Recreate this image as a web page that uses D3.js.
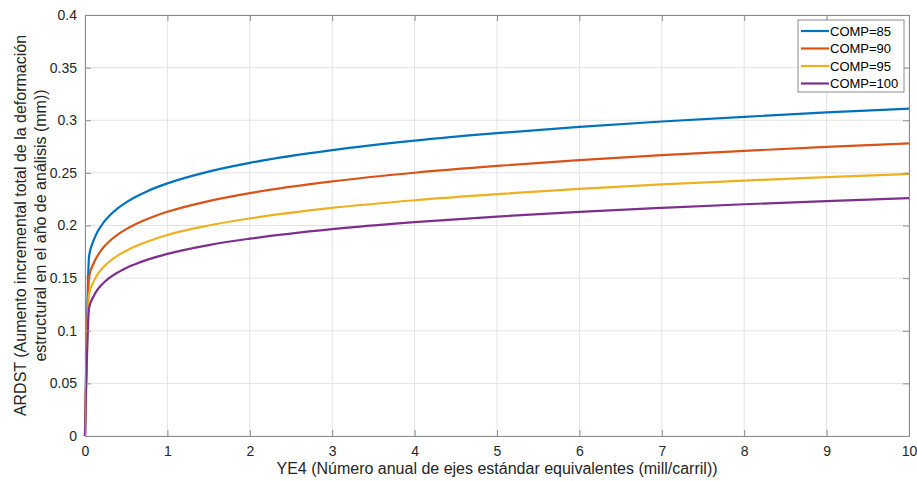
<!DOCTYPE html>
<html><head><meta charset="utf-8">
<script src="https://cdn.jsdelivr.net/npm/d3@7/dist/d3.min.js"></script>
<style>body{margin:0;background:#fff}svg{display:block;font-family:"Liberation Sans",Arial,sans-serif}</style>
</head><body><svg id="c" width="917" height="481"></svg>
<script>
const xVals   = [0, 0.05, 0.1, 0.15, 0.2, 0.25, 0.3, 0.4, 0.5, 0.6, 0.75, 1, 1.5, 2, 3, 4, 5, 6, 7, 8, 9, 10];
const comp85  = [0, 0.171, 0.185, 0.1939, 0.200, 0.2053, 0.2096, 0.2165, 0.222, 0.2266, 0.2324, 0.240, 0.2512, 0.2595, 0.2716, 0.2806, 0.2877, 0.2937, 0.2988, 0.3033, 0.3074, 0.311];
const comp90  = [0, 0.151, 0.1632, 0.1710, 0.1768, 0.1814, 0.1853, 0.1916, 0.1966, 0.2008, 0.2060, 0.213, 0.2232, 0.2308, 0.2419, 0.2501, 0.2566, 0.2621, 0.2668, 0.2709, 0.2747, 0.278];
const comp95  = [0, 0.135, 0.146, 0.1532, 0.1584, 0.1625, 0.166, 0.1716, 0.176, 0.1798, 0.1845, 0.191, 0.200, 0.2067, 0.2167, 0.224, 0.2298, 0.2348, 0.239, 0.2427, 0.246, 0.249];
const comp100 = [0, 0.122, 0.132, 0.1388, 0.1435, 0.1473, 0.1505, 0.1555, 0.1597, 0.1630, 0.1673, 0.173, 0.1814, 0.1875, 0.1966, 0.2032, 0.2085, 0.2130, 0.2168, 0.2202, 0.2232, 0.226];
const seriesNames = ["COMP=85", "COMP=90", "COMP=95", "COMP=100"];
const xTicks = [0,1,2,3,4,5,6,7,8,9,10];
const yTicks = [0,0.05,0.1,0.15,0.2,0.25,0.3,0.35,0.4];
const yTickLabels = ["0","0.05","0.1","0.15","0.2","0.25","0.3","0.35","0.4"];
const xLabel = "YE4 (Número anual de ejes estándar equivalentes (mill/carril))";
const yLabel1 = "ARDST (Aumento incremental total de la deformación";
const yLabel2 = "estructural en el año de análisis (mm))";

const colors = ["#0072BD","#D95319","#EDB120","#7E2F8E"];
const series = [comp85, comp90, comp95, comp100];

const svg = d3.select("#c");
const L=85, R=909, T=15, B=436;
const x = d3.scaleLinear().domain([0,10]).range([L,R]);
const y = d3.scaleLinear().domain([0,0.4]).range([B,T]);

// grid
const g = svg.append("g");
g.selectAll(".gx").data(xTicks).join("line").attr("x1",d=>x(d)).attr("x2",d=>x(d)).attr("y1",T).attr("y2",B).attr("stroke","#e3e3e3").attr("stroke-width",1);
g.selectAll(".gy").data(yTicks).join("line").attr("y1",d=>y(d)).attr("y2",d=>y(d)).attr("x1",L).attr("x2",R).attr("stroke","#e3e3e3").attr("stroke-width",1);

// lines
const line = d3.line().x((d,i)=>x(xVals[i])).y(d=>y(d)).curve(d3.curveMonotoneX);
series.forEach((s,k)=>{
  svg.append("path").datum(s).attr("d",line).attr("fill","none").attr("stroke",colors[k]).attr("stroke-width",2.2);
});

// axes
const tk = 6;
const axB = svg.append("g").attr("transform",`translate(0,${B})`).call(d3.axisBottom(x).tickValues(xTicks).tickSize(-tk).tickPadding(10).tickFormat(d3.format("d")));
const axT = svg.append("g").attr("transform",`translate(0,${T})`).call(d3.axisTop(x).tickValues(xTicks).tickSize(-tk).tickFormat(""));
const axL = svg.append("g").attr("transform",`translate(${L},0)`).call(d3.axisLeft(y).tickValues(yTicks).tickSize(-tk).tickPadding(8).tickFormat((d,i)=>yTickLabels[i]));
const axR = svg.append("g").attr("transform",`translate(${R},0)`).call(d3.axisRight(y).tickValues(yTicks).tickSize(-tk).tickFormat(""));
[axB,axT,axL,axR].forEach(a=>{
  a.select(".domain").attr("stroke","#8c8c8c");
  a.selectAll(".tick line").attr("stroke","#8c8c8c");
  a.selectAll("text").attr("font-size",14).attr("fill","#262626").attr("font-family","Liberation Sans, Arial, sans-serif");
});

// labels
svg.append("text").attr("x",(L+R)/2).attr("y",474).attr("text-anchor","middle").attr("font-size",16).attr("fill","#262626").text(xLabel);
svg.append("text").attr("transform",`translate(26,${(T+B)/2}) rotate(-90)`).attr("text-anchor","middle").attr("font-size",16).attr("fill","#262626").text(yLabel1);
svg.append("text").attr("transform",`translate(46,${(T+B)/2}) rotate(-90)`).attr("text-anchor","middle").attr("font-size",16).attr("fill","#262626").text(yLabel2);

// legend
const lg = svg.append("g");
lg.append("rect").attr("x",798).attr("y",20).attr("width",106).attr("height",72).attr("fill","#fff").attr("stroke","#8c8c8c");
seriesNames.forEach((n,k)=>{
  const yy = 31 + k*17.5;
  lg.append("line").attr("x1",801).attr("x2",829).attr("y1",yy).attr("y2",yy).attr("stroke",colors[k]).attr("stroke-width",2.2);
  lg.append("text").attr("x",830).attr("y",yy+4.5).attr("font-size",13).attr("fill","#000").text(n);
});
</script></body></html>
